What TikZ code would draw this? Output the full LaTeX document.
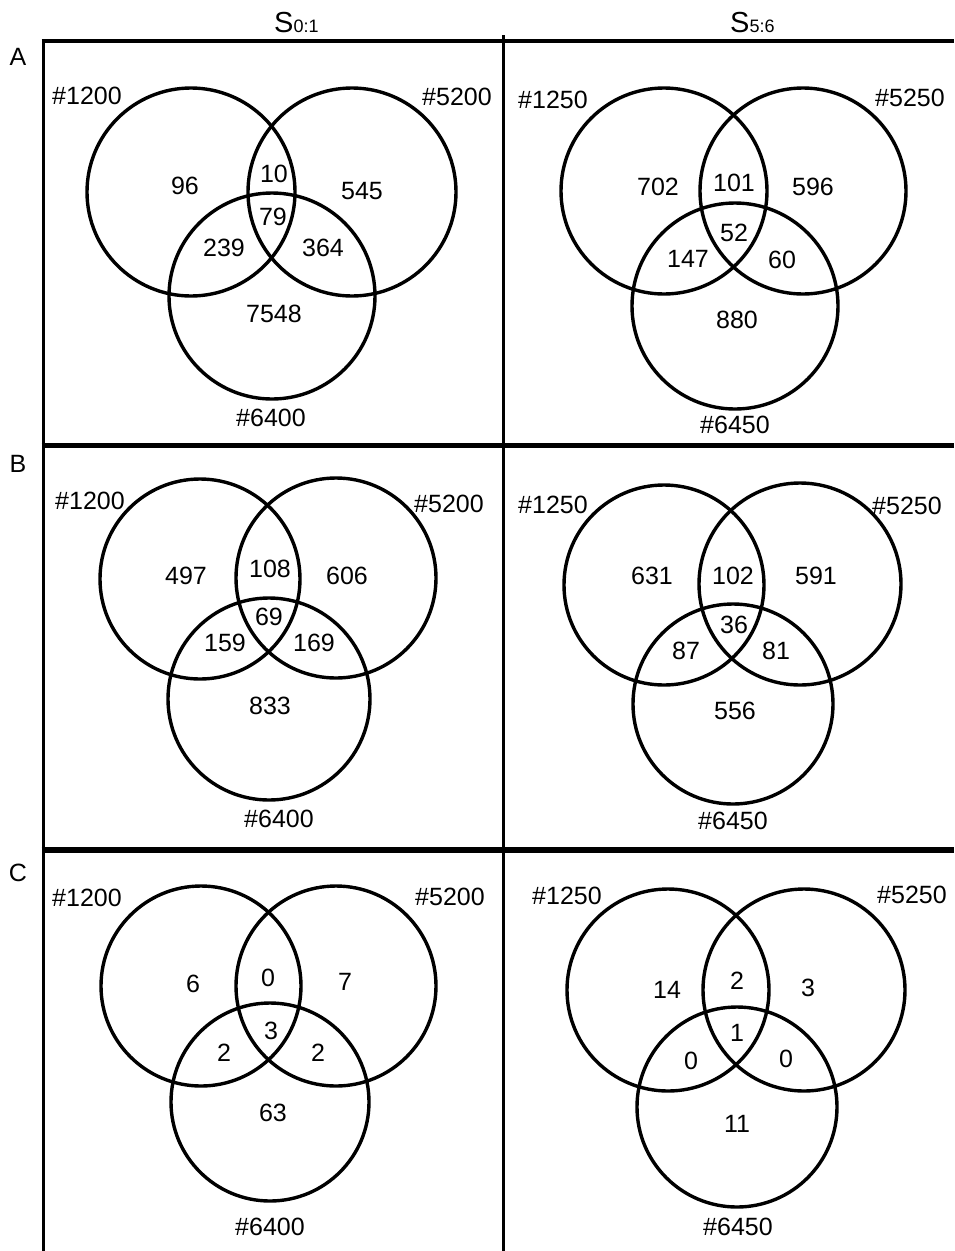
\documentclass[tikz,border=0pt]{standalone}
\usepackage{fontspec}
\setmainfont{Liberation Sans}
\begin{document}
\begin{tikzpicture}[x=1pt,y=-1pt,
  lab/.style={font=\fontsize{25}{30}\selectfont, inner sep=0pt},
  plab/.style={font=\fontsize{25}{30}\selectfont, inner sep=0pt},
  ring/.style={line width=3.4pt},
  frame/.style={line width=3pt}]
\useasboundingbox[fill=white] (0,0) rectangle (954,1251);
% frame
\draw[frame, line width=4pt] (41.5,41) -- (954,41);
\draw[frame, line width=5pt] (41.5,445.5) -- (954,445.5);
\draw[frame, line width=6pt] (41.5,849.5) -- (954,849.5);
\draw[frame] (43.5,39) -- (43.5,1251);
\draw[frame] (503,35) -- (503,1251);
% headers
\node[anchor=base west, inner sep=0pt] (h1) at (274,32) {{\fontsize{29}{30}\selectfont S}{\fontsize{18}{20}\selectfont 0:1}};
\node[anchor=base west, inner sep=0pt] (h2) at (730,32) {{\fontsize{29}{30}\selectfont S}{\fontsize{18}{20}\selectfont 5:6}};
\node[plab] (pA) at (18,57) {A};
\node[plab] (pB) at (18,464) {B};
\node[plab] (pC) at (18,873) {C};
% ---------- Panel A left
\draw[ring] (191,192) circle[radius=104pt];
\draw[ring] (352,192) circle[radius=104pt];
\draw[ring] (272,296) circle[radius=103pt];
\node[lab] (al1) at (87,96) {\#1200};
\node[lab] (al2) at (457,97) {\#5200};
\node[lab] (al3) at (271,418) {\#6400};
\node[lab] (ala) at (185,186) {96};
\node[lab] (alb) at (274,174) {10};
\node[lab] (alc) at (362,191) {545};
\node[lab] (ald) at (273,217) {79};
\node[lab] (ale) at (224,248) {239};
\node[lab] (alf) at (323,248) {364};
\node[lab] (alg) at (274,314) {7548};
% ---------- Panel A right
\draw[ring] (664,191) circle[radius=103pt];
\draw[ring] (803,191) circle[radius=103pt];
\draw[ring] (735,306) circle[radius=103pt];
\node[lab] (ar1) at (553,100) {\#1250};
\node[lab] (ar2) at (910,98) {\#5250};
\node[lab] (ar3) at (735,425) {\#6450};
\node[lab] (ara) at (658,187) {702};
\node[lab] (arb) at (734,183) {101};
\node[lab] (arc) at (813,187) {596};
\node[lab] (ard) at (734,233) {52};
\node[lab] (are) at (688,259) {147};
\node[lab] (arf) at (782,260) {60};
\node[lab] (arg) at (737,320) {880};
% ---------- Panel B left
\draw[ring] (200,579) circle[radius=100pt];
\draw[ring] (336,578) circle[radius=100pt];
\draw[ring] (269,699) circle[radius=101pt];
\node[lab] (bl1) at (90,501) {\#1200};
\node[lab] (bl2) at (449,504) {\#5200};
\node[lab] (bl3) at (279,819) {\#6400};
\node[lab] (bla) at (186,576) {497};
\node[lab] (blb) at (270,569) {108};
\node[lab] (blc) at (347,576) {606};
\node[lab] (bld) at (269,617) {69};
\node[lab] (ble) at (225,643) {159};
\node[lab] (blf) at (314,643) {169};
\node[lab] (blg) at (270,706) {833};
% ---------- Panel B right
\draw[ring] (664,585) circle[radius=100pt];
\draw[ring] (800,584) circle[radius=101pt];
\draw[ring] (733,704) circle[radius=100pt];
\node[lab] (br1) at (553,505) {\#1250};
\node[lab] (br2) at (907,506) {\#5250};
\node[lab] (br3) at (733,821) {\#6450};
\node[lab] (bra) at (652,576) {631};
\node[lab] (brb) at (733,576) {102};
\node[lab] (brc) at (816,576) {591};
\node[lab] (brd) at (734,625) {36};
\node[lab] (bre) at (686,651) {87};
\node[lab] (brf) at (776,651) {81};
\node[lab] (brg) at (735,711) {556};
% ---------- Panel C left
\draw[ring] (201,986) circle[radius=100pt];
\draw[ring] (336,986) circle[radius=100pt];
\draw[ring] (270,1102) circle[radius=99pt];
\node[lab] (cl1) at (87,898) {\#1200};
\node[lab] (cl2) at (450,897) {\#5200};
\node[lab] (cl3) at (270,1227) {\#6400};
\node[lab] (cla) at (193,984) {6};
\node[lab] (clb) at (268,978) {0};
\node[lab] (clc) at (345,982) {7};
\node[lab] (cld) at (271,1031) {3};
\node[lab] (cle) at (224,1053) {2};
\node[lab] (clf) at (318,1053) {2};
\node[lab] (clg) at (273,1113) {63};
% ---------- Panel C right
\draw[ring] (668,990) circle[radius=101pt];
\draw[ring] (804,990) circle[radius=101pt];
\draw[ring] (737,1107) circle[radius=100pt];
\node[lab] (cr1) at (567,896) {\#1250};
\node[lab] (cr2) at (912,895) {\#5250};
\node[lab] (cr3) at (738,1227) {\#6450};
\node[lab] (cra) at (667,990) {14};
\node[lab] (crb) at (737,981) {2};
\node[lab] (crc) at (808,988) {3};
\node[lab] (crd) at (737,1033) {1};
\node[lab] (cre) at (691,1061) {0};
\node[lab] (crf) at (786,1059) {0};
\node[lab] (crg) at (737,1124) {11};
\end{tikzpicture}
\end{document}
